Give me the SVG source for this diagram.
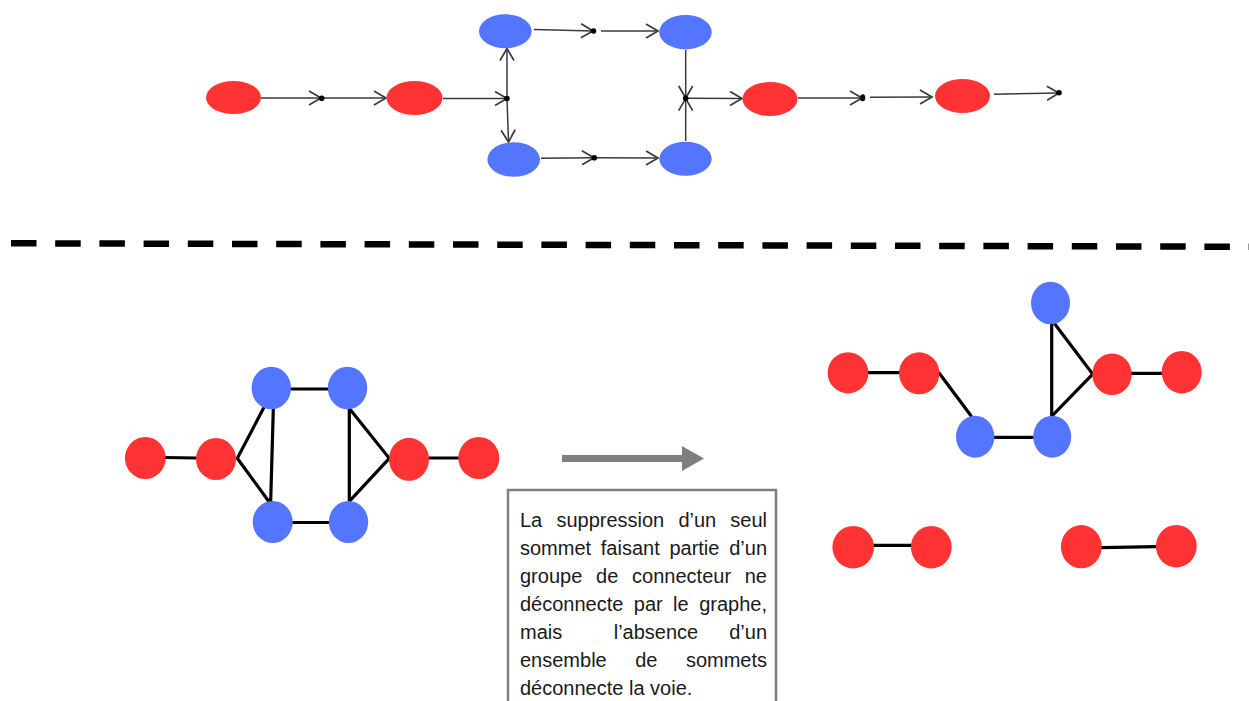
<svg xmlns="http://www.w3.org/2000/svg" width="1249" height="701" viewBox="0 0 1249 701">
<style>
.r{fill:#FF3333}
.b{fill:#5375FF}
.dot{fill:#000}
.a{stroke:#3a3a3a;stroke-width:1.5;fill:none;marker-end:url(#arr)}
.e{stroke:#000;stroke-width:3.2;fill:none;stroke-linecap:round}
.t{font-family:"Liberation Sans",Arial,sans-serif;font-size:20px;fill:#1a1a1a}
</style>
<defs>
<marker id="arr" markerWidth="20" markerHeight="20" refX="14" refY="9" orient="auto" markerUnits="userSpaceOnUse">
<path d="M2,2 L14,9 L2,16" fill="none" stroke="#3a3a3a" stroke-width="1.7"/>
</marker>
</defs>
<rect width="1249" height="701" fill="#fff"/>

<g id="connectors">
<path class="a" d="M261,98 L321,98"/>
<path class="a" d="M323,98 L386,98"/>
<path class="a" d="M443,98.5 L507,98.5"/>
<path class="a" d="M507,98.5 L507,48.5"/>
<path class="a" d="M507,98.5 L508.5,142"/>
<path class="a" d="M534,29.5 L593,31"/>
<path class="a" d="M601,31 L658,31"/>
<path class="a" d="M541,158.3 L594,157.7"/>
<path class="a" d="M595,157.7 L658,158"/>
<path class="a" d="M685.7,50 L685.7,98"/>
<path class="a" d="M685.7,141 L685.7,98.6"/>
<path class="a" d="M686,98.3 L742,98.5"/>
<path class="a" d="M798,98 L862,98"/>
<path class="a" d="M870,97.3 L932,97"/>
<path class="a" d="M994,94.3 L1059,93"/>

<line x1="11" y1="243.3" x2="1249" y2="246.8" stroke="#000" stroke-width="6.5" stroke-dasharray="25.5 18.7"/>

<path class="e" d="M165,457.5 L196,458"/>
<path class="e" d="M291,389 L328,389"/>
<path class="e" d="M292.5,522.5 L329,522.5"/>
<path class="e" d="M264,407.3 L237.3,458.3 L268.3,500.7"/>
<path class="e" d="M273.3,409.3 L270.7,500.7"/>
<path class="e" d="M349.3,409 L349.3,500.7"/>
<path class="e" d="M350,409.3 L389.3,458.3 L350,500.7"/>
<path class="e" d="M429,458 L458.3,458"/>

<path class="e" d="M868,372.7 L899,372.7"/>
<path class="e" d="M939.3,373.3 L971,415.7"/>
<path class="e" d="M994,437.3 L1033,437.3"/>
<path class="e" d="M1051.7,324.3 L1051.7,415.7"/>
<path class="e" d="M1055,324.3 L1092.7,374 L1052.3,415.7"/>
<path class="e" d="M1131.7,373.3 L1161.7,373.3"/>
<path class="e" d="M874,545.3 L911,545.3"/>
<path class="e" d="M1101.5,547.7 L1156,546.7"/>

<polygon points="562,455 682,455 682,446 704,458.5 682,471 682,462 562,462" fill="#7F7F7F"/>
</g>

<g id="top-red-1"><ellipse class="r" cx="233.5" cy="97.5" rx="27.5" ry="16.5"/></g>
<g id="top-dot-1"><circle class="dot" cx="321.7" cy="98.3" r="2.8"/></g>
<g id="top-red-2"><ellipse class="r" cx="414.5" cy="98" rx="28" ry="17"/></g>
<g id="top-dot-2"><circle class="dot" cx="507" cy="98.5" r="2.8"/></g>
<g id="top-blue-tl"><ellipse class="b" cx="505.3" cy="31.3" rx="26.3" ry="17"/></g>
<g id="top-blue-bl"><ellipse class="b" cx="513.7" cy="159.5" rx="26.3" ry="17.2"/></g>
<g id="top-dot-3"><circle class="dot" cx="593.5" cy="31" r="2.8"/></g>
<g id="top-dot-4"><circle class="dot" cx="594.3" cy="157.7" r="2.8"/></g>
<g id="top-blue-tr"><ellipse class="b" cx="685.5" cy="32.2" rx="26.2" ry="17.2"/></g>
<g id="top-blue-br"><ellipse class="b" cx="685.5" cy="158.7" rx="26.2" ry="17"/></g>
<g id="top-dot-5"><circle class="dot" cx="685.7" cy="98.3" r="2.8"/></g>
<g id="top-red-3"><ellipse class="r" cx="770" cy="99" rx="27.5" ry="17"/></g>
<g id="top-dot-6"><ellipse class="dot" cx="862.7" cy="97.7" rx="2.6" ry="3.5"/></g>
<g id="top-red-4"><ellipse class="r" cx="962.5" cy="96" rx="27.5" ry="17"/></g>
<g id="top-dot-7"><circle class="dot" cx="1059" cy="92.7" r="2.8"/></g>

<g id="bl-red-1"><ellipse class="r" cx="145.3" cy="458" rx="20.4" ry="21"/></g>
<g id="bl-red-2"><ellipse class="r" cx="216" cy="459" rx="20" ry="21"/></g>
<g id="bl-blue-tl"><ellipse class="b" cx="271.3" cy="388" rx="19.7" ry="21.3"/></g>
<g id="bl-blue-tr"><ellipse class="b" cx="347.5" cy="388" rx="19.7" ry="21.3"/></g>
<g id="bl-blue-bl"><ellipse class="b" cx="272.7" cy="522" rx="20" ry="21"/></g>
<g id="bl-blue-br"><ellipse class="b" cx="348.5" cy="522" rx="19.7" ry="21"/></g>
<g id="bl-red-3"><ellipse class="r" cx="409" cy="459.3" rx="20" ry="21.5"/></g>
<g id="bl-red-4"><ellipse class="r" cx="478.8" cy="458" rx="20.5" ry="21"/></g>

<g id="br-red-a"><ellipse class="r" cx="848" cy="372.8" rx="20.4" ry="20.6"/></g>
<g id="br-red-b"><ellipse class="r" cx="919.2" cy="373.3" rx="20.2" ry="21"/></g>
<g id="br-blue-c"><ellipse class="b" cx="975.2" cy="436.7" rx="19.2" ry="21"/></g>
<g id="br-blue-d"><ellipse class="b" cx="1052.2" cy="436.7" rx="19" ry="21"/></g>
<g id="br-blue-e"><ellipse class="b" cx="1050.5" cy="303" rx="19.5" ry="21.3"/></g>
<g id="br-red-f"><ellipse class="r" cx="1112" cy="374.2" rx="19.7" ry="20.8"/></g>
<g id="br-red-g"><ellipse class="r" cx="1181.7" cy="372.2" rx="20" ry="21.2"/></g>
<g id="br-red-h"><ellipse class="r" cx="853.2" cy="547.2" rx="20.8" ry="21.2"/></g>
<g id="br-red-i"><ellipse class="r" cx="931.3" cy="547.2" rx="20.4" ry="21.2"/></g>
<g id="br-red-j"><ellipse class="r" cx="1081.3" cy="546.7" rx="20.4" ry="21.6"/></g>
<g id="br-red-k"><ellipse class="r" cx="1176.3" cy="546.2" rx="20.4" ry="21.2"/></g>

<g id="textbox">
<path d="M508,703 V490 H776 V703" fill="none" stroke="#7F7F7F" stroke-width="2.5"/>
<text class="t" y="527"><tspan x="520">La</tspan><tspan x="556.4">suppression</tspan><tspan x="678.4">d’un</tspan><tspan x="767" text-anchor="end">seul</tspan></text>
<text class="t" y="555"><tspan x="520">sommet</tspan><tspan x="600.8">faisant</tspan><tspan x="669.4">partie</tspan><tspan x="767" text-anchor="end">d’un</tspan></text>
<text class="t" y="583"><tspan x="520">groupe</tspan><tspan x="596.1">de</tspan><tspan x="632.1">connecteur</tspan><tspan x="767" text-anchor="end">ne</tspan></text>
<text class="t" y="611"><tspan x="520">déconnecte</tspan><tspan x="633.8">par</tspan><tspan x="673.1">le</tspan><tspan x="767" text-anchor="end">graphe,</tspan></text>
<text class="t" y="639"><tspan x="520">mais</tspan><tspan x="656" text-anchor="middle">l’absence</tspan><tspan x="767" text-anchor="end">d’un</tspan></text>
<text class="t" y="667"><tspan x="520">ensemble</tspan><tspan x="635.2">de</tspan><tspan x="767" text-anchor="end">sommets</tspan></text>
<text class="t" y="695" x="520">déconnecte la voie.</text>
</g>
</svg>
